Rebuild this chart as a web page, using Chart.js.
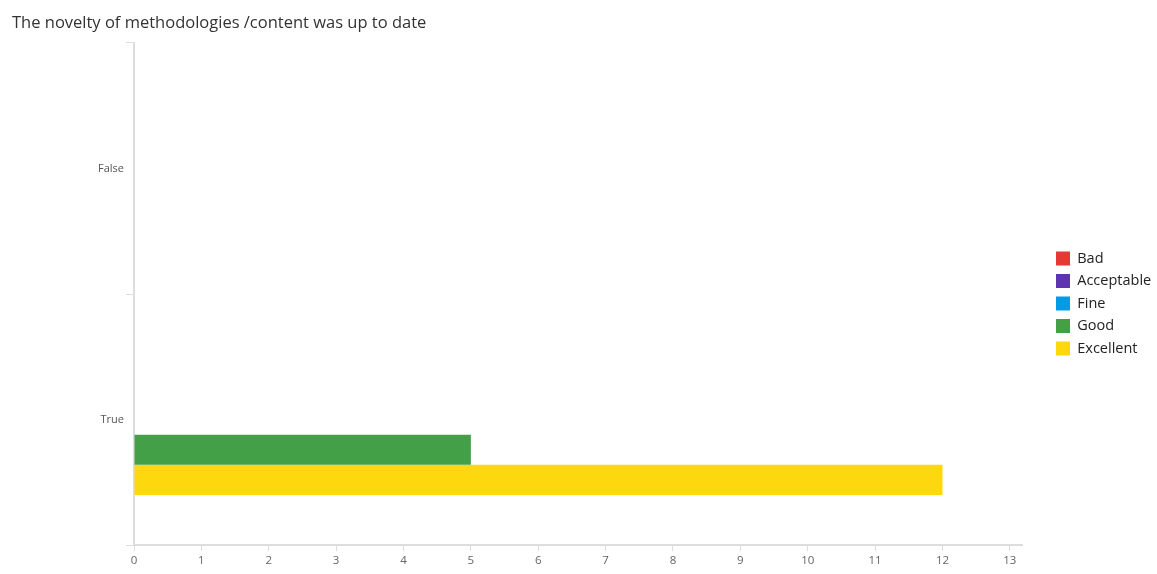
<!DOCTYPE html>
<html>
<head>
<meta charset="utf-8">
<script src="https://cdn.jsdelivr.net/npm/chart.js@4"></script>
<style>
  html, body { margin: 0; padding: 0; background: #fff; }
  #wrap { width: 1157px; height: 574px; position: relative; }
</style>
</head>
<body>
<div id="wrap"><canvas id="c"></canvas></div>
<script>
const categories = ['False', 'True'];
const seriesNames = ['Bad', 'Acceptable', 'Fine', 'Good', 'Excellent'];
const badValues = [0, 0];
const acceptableValues = [0, 0];
const fineValues = [0, 0];
const goodValues = [0, 5];
const excellentValues = [0, 12];
const xTickValues = [0, 1, 2, 3, 4, 5, 6, 7, 8, 9, 10, 11, 12, 13];
const colors = ['#E53935', '#5E35B1', '#039BE5', '#43A047', '#FDD80F'];

const allValues = [badValues, acceptableValues, fineValues, goodValues, excellentValues];
const datasets = seriesNames.map((name, i) => ({
  label: name,
  data: allValues[i],
  backgroundColor: colors[i],
  borderWidth: 0,
  categoryPercentage: 0.6,
  barPercentage: 1.0
}));

const FONT = "'Open Sans', 'DejaVu Sans', sans-serif";
const CHART_RIGHT = 1022;
const LEGEND_ITEM_X = 1056;
const LEGEND_SHIFT_Y = 18;

const legendPlacement = {
  id: 'legendPlacement',
  beforeLayout(chart) {
    const lg = chart.legend;
    if (lg && !lg._wrapped) {
      const orig = lg.fit;
      lg.fit = function () {
        orig.call(this);
        this.width = chart.width - CHART_RIGHT;
      };
      lg._wrapped = true;
    }
  },
  afterLayout(chart) {
    const lg = chart.legend;
    if (!lg) return;
    const pad = lg.options.labels.padding;
    const dx = LEGEND_ITEM_X - (lg.left + pad);
    lg.left += dx;
    lg.right += dx;
    lg.top += LEGEND_SHIFT_Y;
    lg.bottom += LEGEND_SHIFT_Y;
  }
};

new Chart(document.getElementById('c'), {
  type: 'bar',
  data: { labels: categories, datasets },
  plugins: [legendPlacement],
  options: {
    indexAxis: 'y',
    responsive: true,
    maintainAspectRatio: false,
    animation: false,
    layout: { padding: { left: 12, right: 0, top: 0, bottom: 3 } },
    plugins: {
      title: {
        display: true,
        text: 'The novelty of methodologies /content was up to date',
        align: 'start',
        color: '#333',
        font: { family: FONT, size: 16.5, weight: 'normal' },
        padding: { top: 13, bottom: 10 }
      },
      legend: {
        position: 'right',
        align: 'center',
        labels: {
          boxWidth: 14,
          boxHeight: 14,
          padding: 8,
          color: '#222',
          font: { family: FONT, size: 14.5 }
        }
      },
      tooltip: { enabled: false }
    },
    scales: {
      x: {
        type: 'linear',
        min: 0,
        max: 13.18,
        afterBuildTicks: (scale) => {
          scale.ticks = xTickValues.map(v => ({ value: v }));
        },
        grid: {
          drawOnChartArea: false,
          drawTicks: true,
          tickLength: 6,
          color: '#ddd'
        },
        border: { color: '#ddd', width: 2 },
        ticks: {
          color: '#666',
          font: { family: FONT, size: 11.5 },
          padding: 3,
          maxRotation: 0
        }
      },
      y: {
        type: 'category',
        afterFit: (scale) => { scale.width = 122; },
        grid: {
          drawOnChartArea: false,
          drawTicks: true,
          tickLength: 8,
          offset: true,
          color: '#ddd'
        },
        border: { color: '#ddd', width: 2 },
        ticks: {
          color: '#555',
          font: { family: FONT, size: 11 },
          padding: 2
        }
      }
    }
  }
});
</script>
</body>
</html>
